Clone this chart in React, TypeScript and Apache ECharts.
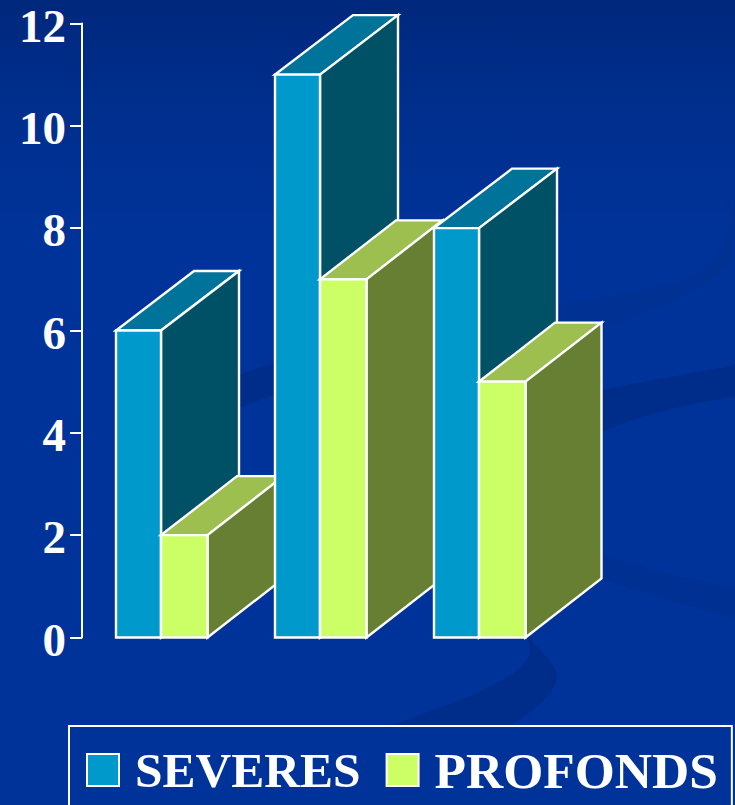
import React, { useEffect, useRef } from "react";
import * as echarts from "echarts";

const categories = ["Groupe 1", "Groupe 2", "Groupe 3"];
const severes = [6, 11, 8];
const profonds = [2, 7, 5];
const yMin = 0;
const yMax = 12;
const yInterval = 2;

const FONT = "'Liberation Serif', serif";
const WHITE = "#ffffff";

// Swirl shapes of the slide backdrop.
const swirlPaths: { name: string; d: string; fill: string }[] = [
  {
    name: "bandMiddle",
    d: "M220 382 L273 363 C350 345 450 420 602 390 C650 380 700 372 735 365 L735 397 C690 403 640 415 602 432 C450 470 350 370 273 395 L220 415 Z",
    fill: "#002d8a",
  },
  {
    name: "bandLower",
    d: "M560 545 L602 555 C620 559 640 566 653 570 C680 577 710 582 735 588 L735 620 C710 610 680 605 653 595 C640 591 620 585 602 580 L560 570 Z",
    fill: "#003092",
  },
  {
    name: "bandBottom",
    d: "M527 635 C535 645 552 660 557 673 C559 690 535 712 507 727 L383 727 C400 722 420 715 433 710 C450 704 470 696 483 690 C500 682 510 676 517 670 C526 662 532 655 530 650 Z",
    fill: "#002d8a",
  },
  {
    name: "bandUpper",
    d: "M710 152 C720 165 726 180 728 197 C731 215 730 225 728 230 C722 250 712 263 700 273 C680 285 640 290 556 305 L556 340 C590 332 612 325 633 317 C660 307 682 298 700 287 C715 278 726 270 733 260 C735 250 735 215 735 200 C730 180 722 165 710 152 Z",
    fill: "#003193",
  },
];

swirlPaths.forEach((p) => {
  echarts.graphic.registerShape(p.name, echarts.graphic.extendPath(p.d, {}));
});

type Faces = { front: string; top: string; side: string };

// A single oblique box: top, side and front faces.
function box(
  x0: number,
  x1: number,
  yTop: number,
  yBase: number,
  colors: Faces,
  depthX: number,
  depthY: number,
  z2: number
) {
  const stroke = { stroke: WHITE, lineWidth: 2.4, lineJoin: "miter" as const };
  return [
    {
      type: "polygon",
      z2,
      shape: {
        points: [
          [x0, yTop],
          [x1, yTop],
          [x1 + depthX, yTop + depthY],
          [x0 + depthX, yTop + depthY],
        ],
      },
      style: { fill: colors.top, ...stroke },
    },
    {
      type: "polygon",
      z2: z2 + 1,
      shape: {
        points: [
          [x1, yTop],
          [x1 + depthX, yTop + depthY],
          [x1 + depthX, yBase + depthY],
          [x1, yBase],
        ],
      },
      style: { fill: colors.side, ...stroke },
    },
    {
      type: "polygon",
      z2: z2 + 2,
      shape: {
        points: [
          [x0, yTop],
          [x1, yTop],
          [x1, yBase],
          [x0, yBase],
        ],
      },
      style: { fill: colors.front, ...stroke },
    },
  ];
}

function boxSeries(
  name: string,
  values: number[],
  left: number,
  right: number,
  colors: Faces,
  depthX: number,
  depthY: number,
  layer: number
) {
  return {
    type: "custom",
    name,
    data: values.map((v, i) => [i, v]),
    itemStyle: { color: colors.front },
    clip: false,
    encode: { x: 0, y: 1 },
    renderItem: (_params: any, api: any) => {
      const cat = api.value(0);
      const top = api.coord([cat, api.value(1)]);
      const base = api.coord([cat, 0]);
      return {
        type: "group",
        children: box(
          top[0] + left,
          top[0] + right,
          top[1],
          base[1],
          colors,
          depthX,
          depthY,
          cat * 10 + layer
        ),
      };
    },
  };
}

export default function App() {
  const ref = useRef<HTMLDivElement>(null);

  useEffect(() => {
    const chart = echarts.init(ref.current!, null, { renderer: "svg" });
    chart.setOption({
      animation: false,
      backgroundColor: {
        type: "linear",
        x: 0,
        y: 0,
        x2: 0,
        y2: 1,
        colorStops: [
          { offset: 0, color: "#00287c" },
          { offset: 0.12, color: "#002e8c" },
          { offset: 0.3, color: "#003399" },
          { offset: 1, color: "#003399" },
        ],
      },
      grid: { left: 82, right: 176, top: 23.5, bottom: 167.5 },
      xAxis: {
        type: "category",
        data: categories,
        show: false,
      },
      yAxis: {
        type: "value",
        min: yMin,
        max: yMax,
        interval: yInterval,
        splitLine: { show: false },
        axisLine: { show: true, lineStyle: { color: WHITE, width: 2 } },
        axisTick: { show: true, length: 12, lineStyle: { color: WHITE, width: 2 } },
        axisLabel: {
          color: WHITE,
          fontFamily: FONT,
          fontWeight: "bold",
          fontSize: 47,
          lineHeight: 4,
          verticalAlign: "top",
          margin: 16,
        },
      },
      legend: {
        left: 69,
        top: 726,
        data: [
          { name: "SEVERES", textStyle: { fontSize: 49.5 } },
          { name: "PROFONDS", textStyle: { fontSize: 51.5 } },
        ],
        selectedMode: false,
        icon: "rect",
        orient: "horizontal",
        itemWidth: 32,
        itemHeight: 32,
        itemGap: 25,
        padding: [18, 14, 11, 17],
        backgroundColor: "#003399",
        borderColor: WHITE,
        borderWidth: 2,
        itemStyle: { borderColor: WHITE, borderWidth: 2 },
        textStyle: {
          color: WHITE,
          fontFamily: FONT,
          fontWeight: "bold",
          fontSize: 49.5,
          lineHeight: 49,
          padding: [0, 0, 0, 11],
        },
      },
      graphic: swirlPaths.map((p) => ({
        type: p.name,
        silent: true,
        z: 0,
        style: { fill: p.fill },
      })),
      series: [
        boxSeries("SEVERES", severes, -45.5, -0.5, { front: "#0099cc", top: "#00739a", side: "#005066" }, 78, -59.5, 0),
        boxSeries("PROFONDS", profonds, -0.5, 46, { front: "#ccff66", top: "#9cbf4f", side: "#667f33" }, 76, -59, 5),
      ],
    });
    return () => chart.dispose();
  }, []);

  return (
    <div
      ref={ref}
      style={{ position: "absolute", left: 0, top: 0, width: 735, height: 805 }}
    />
  );
}
